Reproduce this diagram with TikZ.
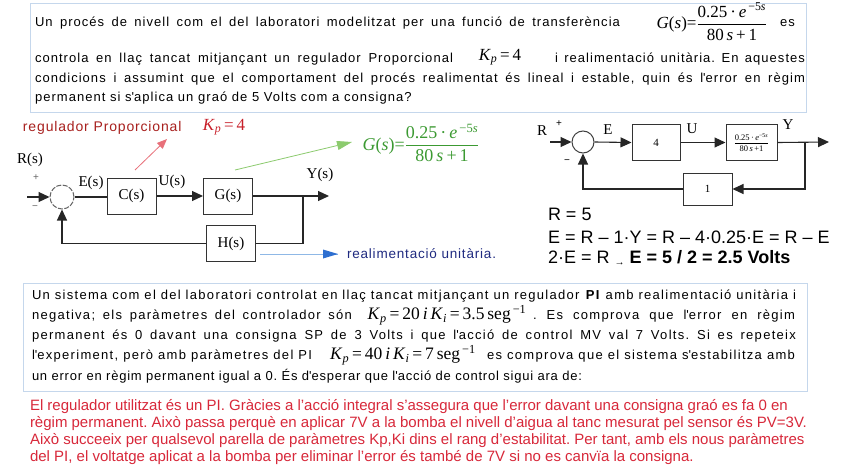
\documentclass[tikz,border=0pt]{standalone}
\usepackage{fontspec}
\usepackage{amsmath}
\setmainfont{Liberation Sans}
\newfontfamily\serf{Liberation Serif}
\newfontfamily\lsp{Liberation Sans}[LetterSpace=8]
\newfontfamily\lspb{Liberation Sans}[LetterSpace=6]
\newfontfamily\lspc{Liberation Sans}[LetterSpace=10]
\usetikzlibrary{arrows.meta}
\frenchspacing
\definecolor{boxblue}{HTML}{C5D7EC}
\definecolor{redtxt}{HTML}{D8283A}
\definecolor{darkred}{HTML}{A8201E}
\definecolor{kred}{HTML}{C8202A}
\definecolor{arrred}{HTML}{E8707A}
\definecolor{grn}{HTML}{3C9A32}
\definecolor{lgrn}{HTML}{8CCB6E}
\definecolor{navy}{HTML}{1F2A80}
\definecolor{lblue}{HTML}{8FB8E6}
\definecolor{ablue}{HTML}{2E6FD0}
\newcommand{\q}{\textquotesingle}
\newcommand{\jl}[2]{\makebox[#1][s]{#2}}
\newcommand{\myfrac}[2]{$\dfrac{\hbox{#1}}{\hbox{#2}}$}
\tikzset{
  txt/.style={inner sep=0pt, outer sep=0pt, anchor=west},
  tA/.style={txt, font=\frenchspacing\lsp\fontsize{13}{15}\selectfont},
  tB/.style={txt, font=\frenchspacing\lspb\fontsize{13}{15}\selectfont},
  tC/.style={txt, font=\frenchspacing\lspc\fontsize{13}{15}\selectfont},
  tR/.style={txt, text=redtxt, font=\frenchspacing\fontsize{15}{17}\selectfont},
  tE/.style={txt, font=\fontsize{18}{20}\selectfont},
  blk/.style={draw=black!80, line width=1pt, minimum width=49pt, minimum height=36pt, inner sep=0pt, font=\serf\fontsize{15}{15}\selectfont},
  blkb/.style={draw=black!80, line width=1pt, inner sep=0pt, font=\serf\fontsize{11}{11}\selectfont},
  sumc/.style={circle, draw=black!75, line width=1pt, minimum size=24pt, inner sep=0pt},
  conn/.style={line width=1.1pt, draw=black!85},
  arr/.style={conn, -{Triangle[length=11pt,width=10pt]}},
  lbl/.style={inner sep=0pt, font=\serf\fontsize{15}{15}\selectfont},
  sgn/.style={inner sep=0pt, text=black!60, font=\fontsize{10}{10}\selectfont},
  frm/.style={inner sep=0pt, font=\serf\fontsize{17}{17}\selectfont},
}
\begin{document}
\begin{tikzpicture}[x=1pt,y=-1pt]
\useasboundingbox[fill=white] (0,0) rectangle (848,476);

% ---------- top box ----------
\draw[boxblue, line width=1pt] (30,4) rectangle (806,113);
\node[tA] (l1) at (35,23) {\jl{585pt}{Un procés de nivell com el del laboratori modelitzat per una funció de transferència}};
\node[frm] (g1) at (712,22) {\textit{G}(\textit{s})=\myfrac{0.25\,·\,\textit{e}\textsuperscript{\,−5\textit{s}}}{80\,\textit{s}\,+\,1}};
\node[tA] (l1b) at (780,23) {es};
\node[tA] (l2a) at (35,59) {\jl{418pt}{controla en llaç tancat mitjançant un regulador Proporcional}};
\node[frm] (kp1) at (500,57) {\textit{K}\textsubscript{\textit{p}}\,=\,4};
\node[tA] (l2b) at (555,59) {\jl{250pt}{i realimentació unitària. En aquestes}};
\node[tA] (l3) at (35,79) {\jl{770pt}{condicions i assumint que el comportament del procés realimentat és lineal i estable, quin és l\q error en règim}};
\node[tA] (l4) at (35,98) {permanent si s\q aplica un graó de 5 Volts com a consigna?};

% ---------- left block diagram ----------
\node[txt, text=darkred, font=\lspb\fontsize{14}{14}\selectfont] (regp) at (23,128) {regulador Proporcional};
\node[frm, text=kred] (kp2) at (224,127) {\textit{K}\textsubscript{\textit{p}}\,=\,4};
\node[sumc, draw=black!60, dash pattern=on 5pt off 1.5pt] (S) at (62,197) {};
\node[blk] (C) at (131.5,196) {C(s)};
\node[blk] (G) at (228,196) {G(s)};
\node[blk] (H) at (231,243.5) {H(s)};
\coordinate (in1) at (27,197);
\coordinate (out1) at (329,196);
\coordinate (br1) at (303,196);
\draw[arr] (in1) -- (S.west);
\draw[conn] (S.east) -- (S.east -| C.west);
\draw[arr] (C.east) -- (G.west);
\draw[arr] (G.east) -- (out1);
\draw[conn] (br1) |- (H.east);
\draw[arr] (H.west) -| (S.south);
\node[lbl] (Rs) at (30,160) {R(s)};
\node[lbl] (Es) at (91,183) {E(s)};
\node[lbl] (Us) at (172,182) {U(s)};
\node[lbl] (Ys) at (320,175) {Y(s)};
\node[sgn] (p1) at (36,178) {+};
\node[sgn] (m1s) at (35,208) {−};
\coordinate (ra) at (135,170);
\coordinate (rb) at (167,139);
\draw[arrred, line width=0.8pt, -{Triangle[length=10pt,width=8pt]}] (ra) -- (rb);
\coordinate (ga) at (235,170);
\coordinate (gb) at (352,142);
\draw[lgrn, line width=0.8pt, -{Triangle[length=15pt,width=9pt]}] (ga) -- (gb);
\node[frm, text=grn, font=\serf\fontsize{18}{18}\selectfont] (g2) at (421,143) {\textit{G}(\textit{s})=\myfrac{0.25\,·\,\textit{e}\textsuperscript{\,−5\textit{s}}}{80\,\textit{s}\,+\,1}};
\coordinate (ba) at (260,254);
\coordinate (bb) at (338,254);
\draw[lblue, line width=0.8pt] (ba) -- (bb);
\fill[ablue] (338,254) -- (323,249.5) -- (323,258.5) -- cycle;
\node[txt, text=navy, font=\lspb\fontsize{13.5}{14}\selectfont] (ru) at (347,254) {realimentació unitària.};

% ---------- right block diagram ----------
\node[sumc, minimum size=22pt] (S2) at (583,142) {};
\node[blkb, minimum width=48pt, minimum height=35pt] (K) at (656,142.5) {4};
\node[blkb, minimum width=51pt, minimum height=35pt] (G2) at (751.5,142.5) {\fontsize{8.5}{8.5}\selectfont\myfrac{0.25\,·\,\textit{e}\textsuperscript{−5\textit{s}}}{80\,\textit{s}\,+1}};
\node[blkb, minimum width=49pt, minimum height=32pt] (F) at (707.5,189) {1};
\coordinate (in2) at (550,142);
\coordinate (out2) at (829,142);
\coordinate (br2) at (805,142);
\draw[arr] (in2) -- (S2.west);
\draw[arr] (S2.east) -- (K.west);
\draw[arr] (K.east) -- (G2.west);
\draw[arr] (G2.east) -- (out2);
\draw[arr] (br2) |- (F.east);
\draw[arr] (F.west) -| (S2.south);
\node[lbl] (R2) at (542,131) {R};
\node[sgn, text=black] (p2) at (559,124) {+};
\node[sgn, text=black] (m2s) at (567,162) {−};
\node[lbl] (E2) at (608,130) {E};
\node[lbl] (U2) at (692,129) {U};
\node[lbl] (Y2) at (788,125) {Y};
\node[tE] (e1) at (548,214) {R = 5};
\node[tE] (e2) at (548,237) {E = R – 1·Y = R – 4·0.25·E = R – E};
\node[tE] (e3) at (548,258) {2·E = R {\fontsize{10}{10}\selectfont\raisebox{-2pt}{→}} \textbf{E = 5 / 2 = 2.5 Volts}};

% ---------- middle box ----------
\draw[boxblue, line width=1pt] (23,283) rectangle (807,391);
\node[tC] (m1) at (32,296) {\jl{764pt}{Un sistema com el del laboratori controlat en llaç tancat mitjançant un regulador \textbf{PI} amb realimentació unitària i}};
\node[tC] (m2a) at (32,316) {\jl{320pt}{negativa; els paràmetres del controlador són}};
\node[frm, font=\serf\fontsize{17.5}{17.5}\selectfont] (m2f) at (447,315) {\textit{K}\textsubscript{\textit{p}}\,=\,20\,\textit{i}\,\textit{K}\textsubscript{\textit{i}}\,=\,3.5\,seg\textsuperscript{\,−1}};
\node[tC] (m2b) at (533,316) {\jl{262pt}{. Es comprova que l\q error en règim}};
\node[tC] (m3) at (32,336) {\jl{764pt}{permanent és 0 davant una consigna SP de 3 Volts i que l\q acció de control MV val 7 Volts. Si es repeteix}};
\node[tC] (m4a) at (32,356) {\jl{280pt}{l\q experiment, però amb paràmetres del PI}};
\node[frm, font=\serf\fontsize{17.5}{17.5}\selectfont] (m4f) at (403,355) {\textit{K}\textsubscript{\textit{p}}\,=\,40\,\textit{i}\,\textit{K}\textsubscript{\textit{i}}\,=\,7\,seg\textsuperscript{\,−1}};
\node[tC] (m4b) at (487,356) {\jl{308pt}{es comprova que el sistema s\q estabilitza amb}};
\node[tB] (m5) at (32,376) {un error en règim permanent igual a 0. És d\q esperar que l\q acció de control sigui ara de:};

% ---------- red answer ----------
\node[tR] (r1) at (30,407) {El regulador utilitzat és un PI. Gràcies a l'acció integral s'assegura que l'error davant una consigna graó es fa 0 en};
\node[tR] (r2) at (30,424) {règim permanent. Això passa perquè en aplicar 7V a la bomba el nivell d'aigua al tanc mesurat pel sensor és PV=3V.};
\node[tR] (r3) at (30,441) {Això succeeix per qualsevol parella de paràmetres Kp,Ki dins el rang d'estabilitat. Per tant, amb els nous paràmetres};
\node[tR] (r4) at (30,458) {del PI, el voltatge aplicat a la bomba per eliminar l'error és també de 7V si no es canvïa la consigna.};
\end{tikzpicture}
\end{document}
